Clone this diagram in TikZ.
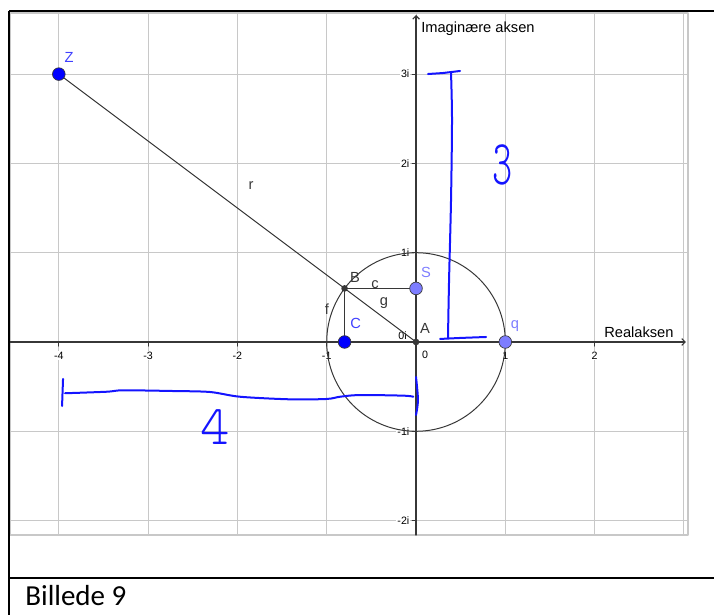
\documentclass[tikz,border=0pt]{standalone}
\usepackage{fontspec}
\usepackage{graphicx}
\setmainfont{Liberation Sans}
\newfontfamily\capfont{Carlito}
\newfontfamily\handfont{lmmonolt10-regular.otf}
\usetikzlibrary{arrows.meta}
\definecolor{gridgray}{RGB}{200,200,200}
\definecolor{axisgray}{RGB}{55,55,55}
\definecolor{ptblue}{RGB}{0,0,255}
\definecolor{lblblue}{RGB}{64,64,255}
\definecolor{ptlight}{RGB}{125,125,255}
\definecolor{inkblue}{RGB}{20,20,255}
\tikzset{
  ticklbl/.style={font=\fontsize{8}{8}\selectfont, fill=white, inner sep=0.8pt},
  ptlbl/.style={font=\fontsize{11}{11}\selectfont, inner sep=0pt},
  ink/.style={inkblue, line width=1.5pt, line cap=round, line join=round},
  bigdot/.style={draw=axisgray, line width=0.5pt, circle, inner sep=0pt, minimum size=9.5pt},
  smalldot/.style={fill=axisgray, circle, inner sep=0pt, minimum size=5pt},
}

\begin{document}
\begin{tikzpicture}[x=66.975pt,y=66.975pt,line cap=round,line join=round]
  \useasboundingbox (-4.659,-3.057) rectangle (3.337,3.830);
  % graphics view
  \draw[gridgray, line width=1pt] (-4.547,-2.161) rectangle (3.046,3.684);
  \foreach \x in {-4,...,3}
    \draw[gridgray, line width=0.75pt] (\x,-2.161) -- (\x,3.684);
  \foreach \y in {-2,-1,1,2,3}
    \draw[gridgray, line width=0.75pt] (-4.547,\y) -- (3.046,\y);
  % axes
  \draw[axisgray, line width=0.9pt, -{Straight Barb[length=2.5pt,width=5pt]}] (-4.547,0) -- (3.023,0);
  \draw[axisgray, line width=0.9pt, -{Straight Barb[length=2.5pt,width=5pt]}] (0,-2.161) -- (0,3.662);
  \foreach \x in {-4,-3,-2,-1,1,2} {
    \draw[axisgray, line width=0.75pt] (\x,0) -- (\x,-0.045);
    \node[ticklbl] (xt\x) at (\x,-0.15) {\x};
  }
  \node[ticklbl] (xt0) at (0.101,-0.14) {0};
  \foreach \y in {-2,-1,1,2,3} {
    \draw[axisgray, line width=0.75pt] (0,\y) -- (-0.045,\y);
    \node[ticklbl, anchor=east] (yt\y) at (-0.06,\y) {\y i};
  }
  \node[ticklbl, fill=none] (yt0) at (-0.151,0.067) {0i};
  \node[ptlbl, anchor=west] (imlbl) at (0.056,3.505) {Imaginære aksen};
  \node[ptlbl, anchor=west] (relbl) at (2.105,0.112) {Realaksen};

  % points and segments
  \coordinate (Z) at (-4,3);
  \coordinate (B) at (-0.8,0.6);
  \coordinate (A) at (0,0);
  \coordinate (S) at (0,0.6);
  \coordinate (C) at (-0.8,0);
  \coordinate (q) at (1,0);
  \draw[axisgray, line width=0.75pt] (A) circle[radius=1];
  \draw[axisgray, line width=0.75pt] (Z) -- (B);
  \draw[axisgray, line width=0.75pt] (B) -- (A);
  \draw[axisgray, line width=0.75pt] (B) -- (S);
  \draw[axisgray, line width=0.75pt] (B) -- (C);
  \node[bigdot, fill=ptblue] (Zdot) at (Z) {};
  \node[bigdot, fill=ptblue] (Cdot) at (C) {};
  \node[bigdot, fill=ptlight] (Sdot) at (S) {};
  \node[bigdot, fill=ptlight] (qdot) at (q) {};
  \node[smalldot] (Bdot) at (B) {};
  \node[smalldot] (Adot) at (A) {};

  % labels
  \node[ptlbl, lblblue] (lblZ) at (-3.886,3.191) {Z};
  \node[ptlbl, lblblue] (lblC) at (-0.677,0.207) {C};
  \node[ptlbl, ptlight] (lblS) at (0.112,0.784) {S};
  \node[ptlbl, ptlight] (lblq) at (1.109,0.179) {q};
  \node[ptlbl, axisgray] (lblB) at (-0.683,0.728) {B};
  \node[ptlbl, axisgray] (lblA) at (0.101,0.151) {A};
  \node[ptlbl, axisgray] (lblr) at (-1.848,1.747) {r};
  \node[ptlbl, axisgray] (lblc) at (-0.459,0.638) {c};
  \node[ptlbl, axisgray] (lblg) at (-0.358,0.437) {g};
  \node[ptlbl, axisgray] (lblf) at (-0.997,0.370) {f};

  % handwritten notes
  \draw[ink] (0.134,3.001) -- (0.30,3.012) -- (0.493,3.035);
  \draw[ink] plot[smooth] coordinates {(0.392,3.012) (0.403,2.486) (0.392,1.590) (0.370,0.694) (0.358,0.045)};
  \draw[ink] plot[smooth] coordinates {(0.269,0.034) (0.493,0.045) (0.784,0.056)};
  \node[inkblue, font=\handfont\fontsize{48}{48}\selectfont, inner sep=0pt] (three) at (0.974,1.982) {\scalebox{0.6}[1]{3}};
  \draw[ink] (-3.953,-0.414) -- (-3.964,-0.717);
  \draw[ink] plot[smooth] coordinates {(-3.931,-0.574) (-3.464,-0.557) (-3.278,-0.541) (-2.718,-0.549) (-2.307,-0.560) (-1.971,-0.613) (-1.411,-0.642) (-1.000,-0.638) (-0.851,-0.613) (-0.627,-0.594) (-0.142,-0.601) (-0.030,-0.613)};
  \draw[ink] plot[smooth] coordinates {(0.0,-0.392) (0.022,-0.650) (0.0,-0.817)};
  \node[inkblue, font=\handfont\fontsize{42}{42}\selectfont, inner sep=0pt] (four) at (-2.251,-0.952) {4};

  % table frame
  \draw[line width=1.5pt, line cap=butt] (-4.558,3.707) -- (3.337,3.707);
  \draw[line width=1.5pt, line cap=butt] (-4.558,3.707) -- (-4.558,-3.057);
  \draw[line width=1.5pt, line cap=butt] (-4.558,-2.643) -- (3.337,-2.643);
  \node[font=\capfont\fontsize{21.75}{26}\selectfont, anchor=base west, inner sep=0pt] (caption) at (-4.378,-2.956) {Billede 9};
\end{tikzpicture}
\end{document}
